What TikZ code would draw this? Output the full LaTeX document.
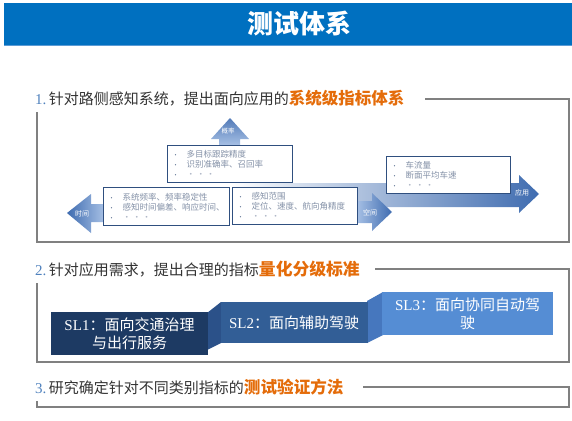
\documentclass[tikz,border=0pt]{standalone}
\usepackage{fontspec}
\setmainfont{Noto Sans CJK SC}
\newfontfamily\tnr{Liberation Serif}
\definecolor{titleblue}{HTML}{0070C0}
\definecolor{titleline}{HTML}{5B9BD5}
\definecolor{framegray}{HTML}{808080}
\definecolor{headtext}{HTML}{333333}
\definecolor{hlorange}{HTML}{E46C0A}
\definecolor{numblue}{HTML}{4F81BD}
\definecolor{boxedge}{HTML}{2F4F7F}
\definecolor{itemtext}{HTML}{8592A8}
\definecolor{bulletc}{HTML}{5A6F90}
\definecolor{dotc}{HTML}{B0B8C8}
\definecolor{arrowdark}{HTML}{3F6CB0}
\definecolor{arrowlight}{HTML}{A9C2E6}
\definecolor{slone}{HTML}{1D3A63}
\definecolor{sltwo}{HTML}{325E96}
\definecolor{slthree}{HTML}{558DD4}
\definecolor{foldone}{HTML}{2B5189}
\definecolor{foldtwo}{HTML}{4677BE}
\newcommand\itm[1]{\makebox[14pt][l]{\textcolor{bulletc}{\fontsize{6}{6}\selectfont •}}#1}
\newcommand\etcline{\makebox[14pt][l]{\textcolor{bulletc}{\fontsize{6}{6}\selectfont •}}\textcolor{dotc}{·\,·\,·}}
\begin{document}
\begin{tikzpicture}[x=1pt,y=-1pt,
  itembox/.style={draw=boxedge, line width=1.2pt, fill=white, anchor=north west,
    inner xsep=5pt, inner ysep=1pt, align=left, text=itemtext,
    font=\fontsize{8.5}{10}\selectfont},
  frameline/.style={draw=framegray, line width=1.4pt},
  arrowtext/.style={text=white, font=\fontsize{7}{7}\selectfont, inner sep=0},
  slbox/.style={text=white, align=center, inner sep=0, font=\fontsize{15}{18}\selectfont},
  heading/.style={anchor=base west, inner sep=0, font=\fontsize{15}{18}\selectfont, text=headtext},
  hl/.style={}]
\useasboundingbox (0,0) rectangle (572,420);
% title bar
\fill[titleblue] (4,3) rectangle (572,45);
\draw[titleline, line width=1.2pt] (4,45.6) -- (572,45.6);
\node[text=white, font=\bfseries\fontsize{26}{26}\selectfont, inner sep=0] (title) at (299,24) {测试体系};

% headings
\node[heading] (h1) at (35,104.5) {{\tnr\color{numblue}1.}\,针对路侧感知系统，提出面向应用的{\bfseries\fontsize{16.5}{18}\selectfont\color{hlorange}系统级指标体系}};
\node[heading] (h2) at (35,275) {{\tnr\color{numblue}2.}\,针对应用需求，提出合理的指标{\bfseries\fontsize{16.8}{18}\selectfont\color{hlorange}量化分级标准}};
\node[heading] (h3) at (35,393.5) {{\tnr\color{numblue}3.}\,研究确定针对不同类别指标的{\bfseries\fontsize{16.6}{18}\selectfont\color{hlorange}测试验证方法}};

% frames
\draw[frameline] (425,99) -- (569,99) -- (569,242) -- (37,242) -- (37,112);
\draw[frameline] (375,269) -- (569,269) -- (569,362) -- (37,362) -- (37,283);
\draw[frameline] (363,387) -- (569,387) -- (569,407) -- (37,407) -- (37,401);

% big arrow 应用
\path[left color=white, right color=arrowdark]
  (230,183) -- (519,183) -- (519,175) -- (539,194) -- (519,213) -- (519,207) -- (230,207) -- cycle;
\node[arrowtext] (app) at (522,192.5) {应用};
\node[itembox, minimum width=124pt, text width=114pt, minimum height=37pt] (b4) at (386,156)
  {\itm{车流量}\\\itm{断面平均车速}\\\etcline};

% up arrow 概率
\path[top color=arrowdark!90, bottom color=arrowlight]
  (219,146) -- (219,139) -- (211,139) -- (230,118) -- (249,139) -- (240,139) -- (240,146) -- cycle;
\node[arrowtext, font=\fontsize{6.5}{7}\selectfont] (prob) at (228,131) {概率};
\node[itembox, minimum width=125pt, text width=115pt, minimum height=37pt] (b1) at (167,145)
  {\itm{多目标跟踪精度}\\\itm{识别准确率、召回率}\\\etcline};

% left arrow 时间
\path[left color=arrowdark, right color=arrowlight]
  (105,204) -- (91,204) -- (91,194) -- (67,213) -- (91,233) -- (91,222) -- (105,222) -- cycle;
\node[arrowtext] (time) at (82,214) {时间};
\node[itembox, minimum width=126pt, text width=116pt, minimum height=38pt] (b2) at (103,187)
  {\itm{系统频率、频率稳定性}\\\itm{感知时间偏差、响应时间、}\\\etcline};

% right arrow 空间
\path[left color=arrowlight, right color=arrowdark]
  (356,201) -- (372,201) -- (372,193) -- (392,212) -- (372,231) -- (372,223) -- (356,223) -- cycle;
\node[arrowtext] (space) at (370,212.5) {空间};
\node[itembox, minimum width=125pt, text width=115pt, minimum height=37pt] (b3) at (232,187)
  {\itm{感知范围}\\\itm{定位、速度、航向角精度}\\\etcline};

% SL levels
\fill[foldone] (207,313) -- (221,302) -- (221,343) -- (207,350) -- cycle;
\fill[foldtwo] (367,301) -- (383,292) -- (383,335) -- (367,343) -- cycle;
\node[slbox, fill=slone, minimum width=157pt, minimum height=43pt] (sl1) at (129.5,333.5)
  {{\tnr SL1}：面向交通治理\\与出行服务};
\node[slbox, fill=sltwo, minimum width=147pt, minimum height=41pt] (sl2) at (294,322.5)
  {{\tnr SL2}：面向辅助驾驶};
\node[slbox, fill=slthree, minimum width=171pt, minimum height=43pt] (sl3) at (467.5,313.5)
  {{\tnr SL3}：面向协同自动驾\\驶};
\end{tikzpicture}
\end{document}
